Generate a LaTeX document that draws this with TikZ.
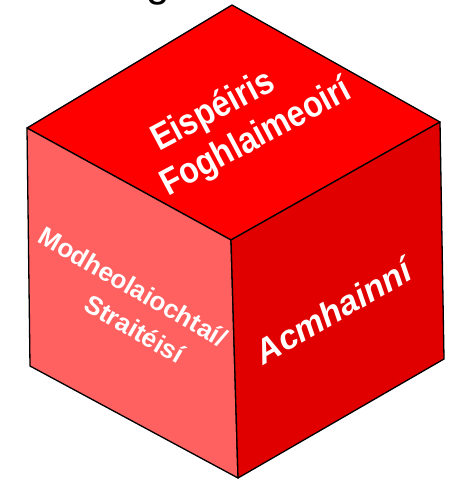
\documentclass[tikz,border=0pt]{standalone}
\usepackage{fontspec}
\setmainfont{Liberation Sans}
\definecolor{topred}{HTML}{FF0000}
\definecolor{leftred}{HTML}{FF6161}
\definecolor{rightred}{HTML}{E00000}
\tikzset{
  face/.style={draw=black, line width=1.3pt, line join=round},
  facetext/.style={text=white, inner sep=0pt}
}
\begin{document}
\begin{tikzpicture}[x=1pt,y=-1pt]

\useasboundingbox (0,0) rectangle (450,479);

\coordinate (top) at (232,5);
\coordinate (left) at (27,128);
\coordinate (centre) at (231,240);
\coordinate (right) at (440,122);
\coordinate (botleft) at (30,366);
\coordinate (bot) at (238,478);
\coordinate (botright) at (444,359);

\draw[face, fill=topred] (left) -- (top) -- (right) -- (centre) -- cycle;
\draw[face, fill=leftred] (left) -- (centre) -- (bot) -- (botleft) -- cycle;
\draw[face, fill=rightred] (centre) -- (right) -- (botright) -- (bot) -- cycle;

\begin{scope}
\clip (0,0) rectangle (450,479);
\node[anchor=base west, inner sep=0pt, font=\fontsize{42}{42}\selectfont] (title) at (146,-3) {g};
\end{scope}

\node[facetext, rotate=28, yscale=1.15, align=left, font=\bfseries\fontsize{32}{38}\selectfont] (learner) at (246,119) {\hspace*{13pt}Eispéiris\\Foghlaimeoirí};
\node[facetext, rotate=-30, align=left, font=\bfseries\fontsize{26}{36}\selectfont] (method) at (124,302) {Modheolaiochtaí/\\\hspace*{74pt}Straitéisí};
\node[facetext, rotate=30, font=\bfseries\itshape\fontsize{34}{38}\selectfont] (resource) at (333,311) {Acmhainní};

\end{tikzpicture}
\end{document}
